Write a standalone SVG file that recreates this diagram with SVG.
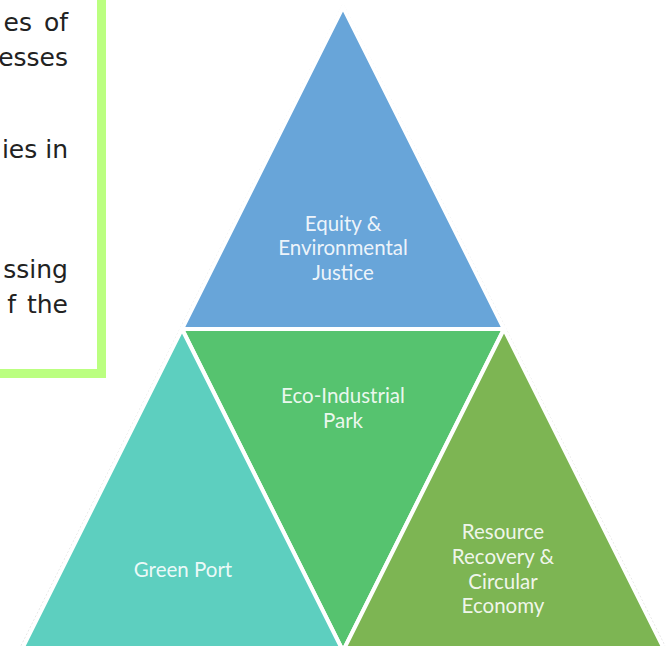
<svg xmlns="http://www.w3.org/2000/svg" width="667" height="646" viewBox="0 0 667 646">
<style>
.body{font-family:"DejaVu Sans","Liberation Sans",sans-serif;font-size:25px;fill:#222222;text-anchor:end}
.tri{stroke:#ffffff;stroke-width:4;stroke-linejoin:miter}
.lbl{font-family:Lato,"Open Sans","Liberation Sans",sans-serif;font-size:20.5px;fill:#ffffff;fill-opacity:0.9;text-anchor:middle}
</style>
<rect width="667" height="646" fill="#ffffff"/>
<g id="textbox">
<rect x="-20" y="-20" width="121.5" height="393.5" fill="#ffffff" stroke="#BBFF80" stroke-width="9"/>
<text class="body" x="68" y="31" word-spacing="4">es of</text>
<text class="body" x="68" y="66">esses</text>
<text class="body" x="68" y="158">ies in</text>
<text class="body" x="68" y="278">ssing</text>
<text class="body" x="68" y="313" word-spacing="3">f the</text>
</g>
<g id="outline">
<polygon points="343,4 18,652 668,652" fill="none" stroke="#dcdcdc" stroke-width="1" stroke-dasharray="2,2"/>
</g>
<g id="equity">
<polygon class="tri" points="343,7 182,329 504,329" fill="#68A5D9"/>
<text class="lbl" x="343" y="231">Equity &amp;</text>
<text class="lbl" x="343" y="255">Environmental</text>
<text class="lbl" x="343" y="280">Justice</text>
</g>
<g id="ecopark">
<polygon class="tri" points="182,329 504,329 343,651" fill="#56C36F"/>
<text class="lbl" x="343" y="403">Eco-Industrial</text>
<text class="lbl" x="343" y="428">Park</text>
</g>
<g id="greenport">
<polygon class="tri" points="182,329 343,651 21,651" fill="#5DCFBF"/>
<text class="lbl" x="183" y="577">Green Port</text>
</g>
<g id="resource">
<polygon class="tri" points="504,329 665,651 343,651" fill="#7DB553"/>
<text class="lbl" x="503" y="539">Resource</text>
<text class="lbl" x="503" y="564">Recovery &amp;</text>
<text class="lbl" x="503" y="589">Circular</text>
<text class="lbl" x="503" y="613">Economy</text>
</g>
<g id="connectors"></g>
</svg>
